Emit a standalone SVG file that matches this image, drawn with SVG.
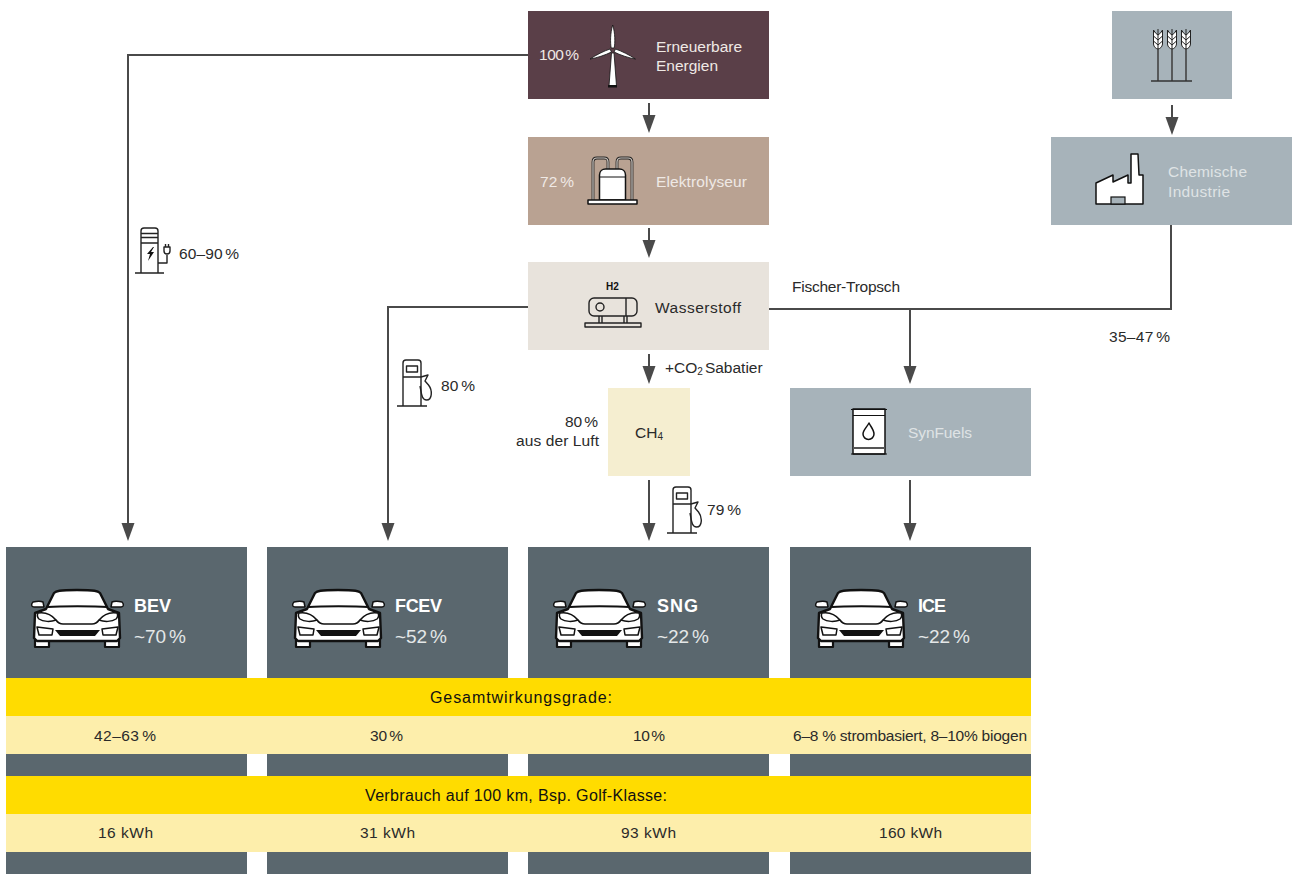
<svg xmlns="http://www.w3.org/2000/svg" width="1292" height="874" viewBox="0 0 1292 874">
<style>
text{font-family:"Liberation Sans",Arial,sans-serif;font-size:15.500px;fill:#333}
.w{fill:#efe9e5}
.g{fill:#dfe3e5}
.t{font-size:15.500px;fill:#2a2a2a}
.h{font-size:16px;fill:#111}
.m{text-anchor:middle}
.n{font-weight:700;font-size:18px;fill:#fff}
.p{font-size:19px;fill:#e4e7e8}
.c{fill:none;stroke:#4a4a4a;stroke-width:2}
.i{fill:#fff;stroke:#111;stroke-width:1.500;stroke-linejoin:round}
.o{fill:none;stroke:#222;stroke-width:1.400;stroke-linejoin:round}
.dark{fill:#5a676e}
.yb{fill:#ffdc00}
.yl{fill:#fdeeab}
.s{font-size:10px}
</style>
<defs>
<path id="ah" d="M-6.500 -18H6.500L0 0Z" fill="#4a4a4a"/>
<g id="car">
<path fill="#fff" stroke="#111" stroke-width="2.200" stroke-linejoin="round" d="M35 636h14v11h-14zM105 636h14v11h-14z"/>
<path class="i" stroke-width="2" d="M33 602c4-1 8-1 10 0l1 5h-10c-3 0-3-3-1-5zM122 602c-4-1-8-1-10 0l-1 5h10c3 0 3-3 1-5z"/>
<path d="M35 613l11-4 8-16c2-2 5-3 23-3s21 1 23 3l8 16 11 4 1 25-3 3H37l-3-3z" fill="#fff" stroke="#111" stroke-width="2.400" stroke-linejoin="round"/>
<path d="M48 607c12-1 47-1 59 0" fill="none" stroke="#111" stroke-width="2"/>
<path class="i" stroke-width="1.900" d="M38 613c6-1 13 1 18 7-5 2-13 2-17-1-2-2-2-4-1-6zM117 613c-6-1-13 1-18 7 5 2 13 2 17-1 2-2 2-4 1-6z"/>
<path d="M56 620c2 3 4 4 7 4h29c3 0 5-1 7-4" fill="none" stroke="#111" stroke-width="1.600"/>
<path class="i" d="M37 627l16 2-1 6H39zM118 627l-16 2 1 6h13z"/>
<path d="M55 630h45l-5 6H60z" fill="#111"/>
</g>
<g id="pump">
<path class="o" d="M0 46V3c0-2 1-3 3-3h12c2 0 3 1 3 3v43M-6 46H24M3.500 6H14.500V12H3.500ZM0 17H18"/>
<path class="o" d="M18 17l7-2-3 6 3.500 4c4 5 4 15-2 15-5 0-5-7-6.500-14"/>
</g>
</defs>

<g id="connectors">
<path class="c" d="M528 55H128V524"/>
<use href="#ah" x="128" y="541"/>
<path class="c" d="M528 307H388V524"/>
<use href="#ah" x="388" y="541"/>
<path class="c" d="M649 103V118"/>
<use href="#ah" x="649" y="133"/>
<path class="c" d="M649 228V243"/>
<use href="#ah" x="649" y="258"/>
<path class="c" d="M649 354V369"/>
<use href="#ah" x="649" y="384"/>
<path class="c" d="M649 480V526"/>
<use href="#ah" x="649" y="541"/>
<path class="c" d="M910 480V526"/>
<use href="#ah" x="910" y="541"/>
<path class="c" d="M769 309H1171V225"/>
<path class="c" d="M910 309V369"/>
<use href="#ah" x="910" y="384"/>
<path class="c" d="M1172 105V120"/>
<use href="#ah" x="1172" y="135"/>
</g>

<g id="node-erneuerbare">
<rect x="528" y="11" width="241" height="88" fill="#5a3f48"/>
<path fill="#fff" stroke="#111" stroke-width=".8" d="M611.500 53h2.500l2.500 33h-7.500zM612.700 25c-2.500 8-2.500 18-1.500 23h3c1-5 1-15-1.500-23zM590 59c6-4 14-8 20-10l1.500 3c-6 3-15 6-21.500 7zM635.500 59c-6-4-14-8-20-10l-1.500 3c6 3 15 6 21.500 7z"/>
<rect x="608" y="85" width="9" height="2.500" fill="#111"/>
<text class="w" x="539" y="60" word-spacing="-2" textLength="40">100 %</text>
<text class="w" x="656" y="52" textLength="86">Erneuerbare</text>
<text class="w" x="656" y="71" textLength="62">Energien</text>
</g>

<g id="node-elektrolyseur">
<rect x="528" y="137" width="241" height="88" fill="#b9a292"/>
<path d="M593 200V162c0-3 2-4 4-4h7c3 0 4 1 4 4v7M632 200V162c0-3-2-4-4-4h-7c-3 0-4 1-4 4v7" fill="none" stroke="#222" stroke-width="2.800"/>
<path d="M593 200V162c0-3 2-4 4-4h7c3 0 4 1 4 4v7M632 200V162c0-3-2-4-4-4h-7c-3 0-4 1-4 4v7" fill="none" stroke="#cfc8c2" stroke-width="1.200"/>
<path class="i" d="M599.500 200V175c0-4 3-6 6-6h14c3 0 6 2 6 6v25z"/>
<path d="M599.500 177h26" stroke="#111" stroke-width="1"/>
<rect class="i" x="588" y="200" width="49" height="4" stroke-width="1"/>
<text class="w" x="540" y="187" word-spacing="-2" textLength="34">72 %</text>
<text class="w" x="656" y="187" textLength="91">Elektrolyseur</text>
</g>

<g id="node-wasserstoff">
<rect x="528" y="262" width="241" height="88" fill="#e8e3dc"/>
<text x="612.500" y="290" class="m" style="font-size:10px;font-weight:700;fill:#111">H2</text>
<rect class="o" x="589" y="298" width="48" height="18" rx="5"/>
<circle class="o" cx="600" cy="307" r="4"/>
<path class="o" d="M626 298v18M599 316v7M602 316v7M624 316v7M627 316v7"/>
<rect class="o" x="585" y="323" width="56" height="4"/>
<text class="t" x="655" y="313" textLength="86">Wasserstoff</text>
</g>

<g id="node-ch4">
<rect x="608" y="388" width="82" height="88" fill="#f5eed0"/>
<text class="t" x="635" y="438">CH<tspan class="s" dy="2">4</tspan></text>
</g>

<g id="node-synfuels">
<rect x="790" y="388" width="241" height="88" fill="#a7b3ba"/>
<rect class="i" x="853" y="409" width="32" height="45" stroke-width="1.200"/>
<path d="M851 409.500h36M851 454h36M853 415.500h32" stroke="#111" stroke-width="1.200" fill="none"/>
<path d="M853 448h32" stroke="#555" stroke-width="2"/>
<path class="i" d="M869 423c2 4 5 7 5 11a5 5 0 0 1-11 0c0-4 4-7 6-11z" stroke-width="1.200"/>
<text class="g" x="908" y="438" textLength="64">SynFuels</text>
</g>

<g id="node-biomasse">
<rect x="1112" y="11" width="120" height="88" fill="#a7b3ba"/>
<path d="M1158 48v33M1172 48v33M1186 48v33" stroke="#444" stroke-width="1.600" fill="none"/>
<path d="M1151 81h41" stroke="#333" stroke-width="1.500"/>
<g fill="#fff" stroke="#222" stroke-width="1">
<path d="M1153.500 30v14c0 3 3 5 4.500 5s4.500-2 4.500-5V30l-2 3-2.500 2-2.500-2z"/>
<path d="M1167.500 30v14c0 3 3 5 4.500 5s4.500-2 4.500-5V30l-2 3-2.500 2-2.500-2z"/>
<path d="M1181.500 30v14c0 3 3 5 4.500 5s4.500-2 4.500-5V30l-2 3-2.500 2-2.500-2z"/>
</g>
<path d="M1153.500 36l4.500 4 4.500-4M1153.500 41l4.500 4 4.500-4M1167.500 36l4.500 4 4.500-4M1167.500 41l4.500 4 4.500-4M1181.500 36l4.500 4 4.500-4M1181.500 41l4.500 4 4.500-4M1158 29v20M1172 29v20M1186 29v20" fill="none" stroke="#222" stroke-width="1"/>
</g>

<g id="node-chemie">
<rect x="1051" y="137" width="241" height="88" fill="#a7b3ba"/>
<path class="i" d="M1096 183l17-8v7l15-7v8h3v-29h7l1 21h4v29h-47z"/>
<rect x="1111" y="197" width="14" height="7" fill="#a7b3ba" stroke="#111" stroke-width="1.200"/>
<text class="g" x="1168" y="177" textLength="79">Chemische</text>
<text class="g" x="1168" y="197" textLength="62">Industrie</text>
</g>

<g id="label-bev-path">
<path class="o" d="M141 273V231c0-2 1-3 3-3h11c2 0 3 1 3 3v42M135 273H164M141 233.500h17M141 237.500h17M141 243h17"/>
<path d="M153 247l-6 7h3l-2 7 6-9h-3l3-5z" fill="#111"/>
<path class="o" d="M158 263h9v-8"/>
<path class="o" d="M164 247h6v4c0 2-1 3-3 3s-3-1-3-3zM165.500 244v3M168.500 244v3"/>
<text class="t" x="179" y="259" word-spacing="-2" textLength="60">60–90 %</text>
</g>
<g id="label-fcev-path">
<use href="#pump" x="403" y="360"/>
<text class="t" x="441" y="391" word-spacing="-2" textLength="34">80 %</text>
</g>
<g id="label-sng-path">
<use href="#pump" x="673" y="487"/>
<text class="t" x="707" y="515" word-spacing="-2" textLength="34">79 %</text>
</g>
<g id="label-ch4-path">
<text class="t" x="565" y="427" word-spacing="-2" textLength="33">80 %</text>
<text class="t" x="516" y="446" textLength="83">aus der Luft</text>
<text class="t" x="665" y="373">+CO<tspan class="s" dy="2">2</tspan><tspan dy="-2" dx="2">Sabatier</tspan></text>
</g>
<text class="t" x="792" y="292" textLength="108">Fischer-Tropsch</text>
<text class="t" x="1109" y="342" word-spacing="-2" textLength="61">35–47 %</text>

<g id="node-bev">
<rect class="dark" x="6" y="547" width="241" height="327"/>
<use href="#car" x="0"/>
<text class="n" x="134" y="612" textLength="37">BEV</text>
<text class="p" x="134" y="643" word-spacing="-2" textLength="52">~70 %</text>
</g>
<g id="node-fcev">
<rect class="dark" x="267" y="547" width="241" height="327"/>
<use href="#car" x="261"/>
<text class="n" x="395" y="612" textLength="47">FCEV</text>
<text class="p" x="395" y="643" word-spacing="-2" textLength="52">~52 %</text>
</g>
<g id="node-sng">
<rect class="dark" x="528" y="547" width="241" height="327"/>
<use href="#car" x="522"/>
<text class="n" x="657" y="612" textLength="41">SNG</text>
<text class="p" x="657" y="643" word-spacing="-2" textLength="52">~22 %</text>
</g>
<g id="node-ice">
<rect class="dark" x="790" y="547" width="241" height="327"/>
<use href="#car" x="784"/>
<text class="n" x="918" y="612" textLength="28">ICE</text>
<text class="p" x="918" y="643" word-spacing="-2" textLength="52">~22 %</text>
</g>

<g id="table-gesamt">
<rect class="yb" x="6" y="678" width="1025" height="38"/>
<rect class="yl" x="6" y="716" width="1025" height="38"/>
<text class="h" x="430" y="703" textLength="182">Gesamtwirkungsgrade:</text>
<text class="t" x="94" y="741" word-spacing="-2" textLength="62">42–63 %</text>
<text class="t" x="370" y="741" word-spacing="-2" textLength="33">30 %</text>
<text class="t" x="633" y="741" word-spacing="-2" textLength="32">10 %</text>
<text class="t" x="793" y="741" textLength="234">6–8 % strombasiert, 8–10% biogen</text>
</g>
<g id="table-verbrauch">
<rect class="yb" x="6" y="776" width="1025" height="38"/>
<rect class="yl" x="6" y="814" width="1025" height="38"/>
<text class="h" x="365" y="801" textLength="302">Verbrauch auf 100 km, Bsp. Golf-Klasse:</text>
<text class="t" x="98" y="838" textLength="55">16 kWh</text>
<text class="t" x="360" y="838" textLength="55">31 kWh</text>
<text class="t" x="621" y="838" textLength="55">93 kWh</text>
<text class="t" x="879" y="838" textLength="63">160 kWh</text>
</g>
</svg>
